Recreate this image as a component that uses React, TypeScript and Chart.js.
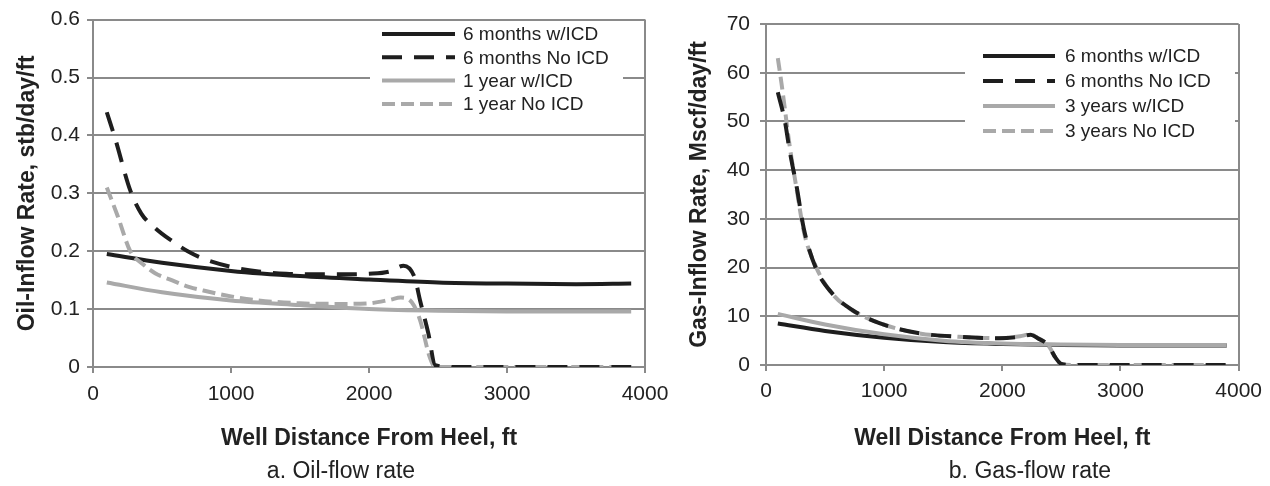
import React, { useEffect, useRef } from 'react';
import { Chart, registerables } from 'chart.js';

Chart.register(...registerables);

// ---------- data ----------
const xTickValues = [0, 1000, 2000, 3000, 4000];

const oilLabels = ['6 months w/ICD', '6 months No ICD', '1 year w/ICD', '1 year No ICD'];
const gasLabels = ['6 months w/ICD', '6 months No ICD', '3 years w/ICD', '3 years No ICD'];

const oil6mIcdX = [100, 500, 1000, 1500, 2000, 2500, 3000, 3500, 3900];
const oil6mIcdY = [0.195, 0.18, 0.166, 0.157, 0.151, 0.146, 0.144, 0.143, 0.144];

const oil6mNoX = [100, 160, 270, 350, 450, 570, 700, 800, 1000, 1200, 1400, 1600, 1800, 2000, 2150, 2250, 2330, 2370, 2430, 2480, 2600, 3000, 3500, 3900];
const oil6mNoY = [0.44, 0.395, 0.305, 0.265, 0.24, 0.218, 0.198, 0.187, 0.173, 0.165, 0.161, 0.16, 0.16, 0.161, 0.165, 0.175, 0.155, 0.115, 0.058, 0.003, 0, 0, 0, 0];

const oil1yIcdX = [100, 500, 1000, 1500, 2000, 2500, 3000, 3500, 3900];
const oil1yIcdY = [0.146, 0.129, 0.115, 0.107, 0.1, 0.097, 0.096, 0.096, 0.096];

const oil1yNoX = [100, 180, 270, 360, 450, 570, 700, 800, 1000, 1200, 1500, 1800, 2000, 2150, 2230, 2310, 2370, 2440, 2480, 2600, 3000, 3500, 3900];
const oil1yNoY = [0.31, 0.26, 0.2, 0.178, 0.162, 0.15, 0.138, 0.132, 0.122, 0.115, 0.11, 0.109, 0.11, 0.116, 0.12, 0.112, 0.081, 0.017, 0, 0, 0, 0, 0];

const gas6mIcdX = [100, 500, 1000, 1500, 2000, 2500, 3000, 3500, 3900];
const gas6mIcdY = [8.5, 7.0, 5.6, 4.7, 4.3, 4.1, 4.0, 4.0, 4.0];

const gas6mNoX = [100, 160, 200, 260, 320, 420, 560, 730, 960, 1300, 1630, 1970, 2150, 2240, 2300, 2390, 2450, 2500, 2600, 3000, 3500, 3900];
const gas6mNoY = [56, 50, 44, 36.5, 28, 20, 14.7, 11.3, 8.6, 6.5, 5.8, 5.5, 5.8, 6.2, 5.5, 4.0, 1.5, 0.2, 0, 0, 0, 0];

const gas3yIcdX = [100, 500, 1000, 1500, 2000, 2500, 3000, 3500, 3900];
const gas3yIcdY = [10.5, 8.3, 6.3, 5.0, 4.4, 4.2, 4.1, 4.1, 4.1];

const gas3yNoX = [100, 130, 160, 200, 256, 323, 424, 558, 726, 961, 1295, 1630, 1967, 2150, 2236, 2302, 2390, 2450, 2500, 2600, 3000, 3500, 3900];
const gas3yNoY = [63, 58, 52.5, 45, 36.6, 27.1, 20.1, 14.7, 11.3, 8.6, 6.5, 5.8, 5.5, 5.9, 6.3, 5.5, 4.0, 1.5, 0.2, 0, 0, 0, 0];

// ---------- styles ----------
const FONT = "'Liberation Sans', Arial, Helvetica, sans-serif";
const BLACK = '#1e1e1e';
const GRAY = '#a9a9a9';
const GRID = '#8a8a8a';
const TEXT = '#222222';

const seriesStyles = [
  { color: BLACK, dash: [] as number[], order: 3 },
  { color: BLACK, dash: [20, 12], order: 0 },
  { color: GRAY, dash: [] as number[], order: 2 },
  { color: GRAY, dash: [13, 6], order: 1 },
];

function pts(xs: number[], ys: number[]) {
  return xs.map((x, i) => ({ x, y: ys[i] }));
}

const boxLegend = {
  id: 'boxLegend',
  afterDraw(chart: any, _args: any, opts: any) {
    if (!opts || !opts.box) return;
    const ctx = chart.ctx as CanvasRenderingContext2D;
    const b = opts.box;
    ctx.save();
    ctx.fillStyle = '#ffffff';
    ctx.fillRect(b.x, b.y, b.w, b.h);
    ctx.font = `${opts.fontSize}px ${FONT}`;
    ctx.textBaseline = 'middle';
    ctx.textAlign = 'left';
    chart.data.datasets.forEach((ds: any, i: number) => {
      const y = opts.firstRow + i * opts.rowGap;
      ctx.beginPath();
      ctx.strokeStyle = ds.borderColor;
      ctx.lineWidth = ds.borderWidth;
      ctx.setLineDash(ds.borderDash || []);
      ctx.moveTo(opts.lineX0, y);
      ctx.lineTo(opts.lineX1, y);
      ctx.stroke();
      ctx.setLineDash([]);
      ctx.fillStyle = TEXT;
      ctx.fillText(ds.label, opts.textX, y + 1);
    });
    ctx.restore();
  },
};

interface PanelCfg {
  labels: string[];
  series: { x: number[]; y: number[] }[];
  yMax: number;
  yStep: number;
  yTitle: string;
  yWidth: number;
  xHeight: number;
  padTop: number;
  padRight: number;
  yTitlePad: number;
  yTickPad: number;
  xTickPad: number;
  legend: any;
}

function buildConfig(p: PanelCfg): any {
  return {
    type: 'line',
    data: {
      datasets: p.series.map((s, i) => ({
        label: p.labels[i],
        data: pts(s.x, s.y),
        borderColor: seriesStyles[i].color,
        backgroundColor: seriesStyles[i].color,
        borderDash: seriesStyles[i].dash,
        borderWidth: 4,
        pointRadius: 0,
        fill: false,
        cubicInterpolationMode: 'monotone',
        order: seriesStyles[i].order,
        borderCapStyle: 'butt',
      })),
    },
    options: {
      responsive: false,
      animation: false,
      devicePixelRatio: 1,
      layout: { padding: { left: 0, top: p.padTop, right: p.padRight, bottom: 0 } },
      plugins: {
        legend: { display: false },
        tooltip: { enabled: false },
        title: { display: false },
        boxLegend: p.legend,
      },
      scales: {
        x: {
          type: 'linear',
          min: 0,
          max: 4000,
          afterBuildTicks: (scale: any) => {
            scale.ticks = xTickValues.map((v) => ({ value: v }));
          },
          afterFit: (scale: any) => {
            scale.height = p.xHeight;
          },
          ticks: {
            font: { family: FONT, size: 21 },
            color: TEXT,
            padding: p.xTickPad,
            maxRotation: 0,
            callback: (v: any) => String(v),
          },
          grid: {
            display: true,
            drawOnChartArea: true,
            color: (c: any) => (c.tick && c.tick.value === 4000 ? GRID : 'rgba(0,0,0,0)'),
            tickColor: GRID,
            lineWidth: 2,
            tickLength: 6,
          },
          border: { display: true, color: GRID, width: 2 },
          title: {
            display: true,
            text: 'Well Distance From Heel, ft',
            font: { family: FONT, size: 23, weight: 'bold' },
            color: TEXT,
            padding: { top: 0, bottom: 10 },
          },
        },
        y: {
          type: 'linear',
          min: 0,
          max: p.yMax,
          ticks: {
            stepSize: p.yStep,
            font: { family: FONT, size: 21 },
            color: TEXT,
            padding: p.yTickPad,
          },
          afterFit: (scale: any) => {
            scale.width = p.yWidth;
          },
          grid: {
            color: GRID,
            lineWidth: 2,
            tickLength: 6,
            tickColor: GRID,
          },
          border: { display: true, color: GRID, width: 2 },
          title: {
            display: true,
            text: p.yTitle,
            font: { family: FONT, size: 23, weight: 'bold' },
            color: TEXT,
            padding: { top: p.yTitlePad, bottom: 0 },
          },
        },
      },
    },
    plugins: [boxLegend],
  };
}

function Panel({ cfg, left, width, height }: { cfg: PanelCfg; left: number; width: number; height: number }) {
  const ref = useRef<HTMLCanvasElement | null>(null);
  useEffect(() => {
    if (!ref.current) return;
    const chart = new Chart(ref.current, buildConfig(cfg));
    return () => chart.destroy();
  }, [cfg]);
  return (
    <canvas
      ref={ref}
      width={width}
      height={height}
      style={{ position: 'absolute', left, top: 0, width, height, display: 'block' }}
    />
  );
}

const oilCfg: PanelCfg = {
  labels: oilLabels,
  series: [
    { x: oil6mIcdX, y: oil6mIcdY },
    { x: oil6mNoX, y: oil6mNoY },
    { x: oil1yIcdX, y: oil1yIcdY },
    { x: oil1yNoX, y: oil1yNoY },
  ],
  yMax: 0.6,
  yStep: 0.1,
  yTitle: 'Oil-Inflow Rate, stb/day/ft',
  yWidth: 93,
  xHeight: 95,
  padTop: 18,
  padRight: 35,
  yTitlePad: 14,
  yTickPad: 7,
  xTickPad: 9,
  legend: {
    box: { x: 370, y: 22, w: 253, h: 93 },
    firstRow: 34,
    rowGap: 23.3,
    lineX0: 382,
    lineX1: 455,
    textX: 463,
    fontSize: 19,
  },
};

const gasCfg: PanelCfg = {
  labels: gasLabels,
  series: [
    { x: gas6mIcdX, y: gas6mIcdY },
    { x: gas6mNoX, y: gas6mNoY },
    { x: gas3yIcdX, y: gas3yIcdY },
    { x: gas3yNoX, y: gas3yNoY },
  ],
  yMax: 70,
  yStep: 10,
  yTitle: 'Gas-Inflow Rate, Mscf/day/ft',
  yWidth: 116,
  xHeight: 97,
  padTop: 24,
  padRight: 25,
  yTitlePad: 36,
  yTickPad: 10,
  xTickPad: 8,
  legend: {
    box: { x: 315, y: 40, w: 270, h: 105 },
    firstRow: 56,
    rowGap: 25,
    lineX0: 333,
    lineX1: 405,
    textX: 415,
    fontSize: 19,
  },
};

const captionStyle: React.CSSProperties = {
  position: 'absolute',
  top: 456,
  fontFamily: FONT,
  fontSize: 23,
  color: TEXT,
  lineHeight: '28px',
  whiteSpace: 'nowrap',
  transform: 'translateX(-50%)',
};

export default function App() {
  return (
    <div style={{ position: 'absolute', left: 0, top: 0, width: 1270, height: 486, background: '#fff', overflow: 'hidden' }}>
      <Panel cfg={oilCfg} left={0} width={680} height={462} />
      <Panel cfg={gasCfg} left={650} width={620} height={462} />
      <div style={{ ...captionStyle, left: 341 }}>a. Oil-flow rate</div>
      <div style={{ ...captionStyle, left: 1030 }}>b. Gas-flow rate</div>
    </div>
  );
}
